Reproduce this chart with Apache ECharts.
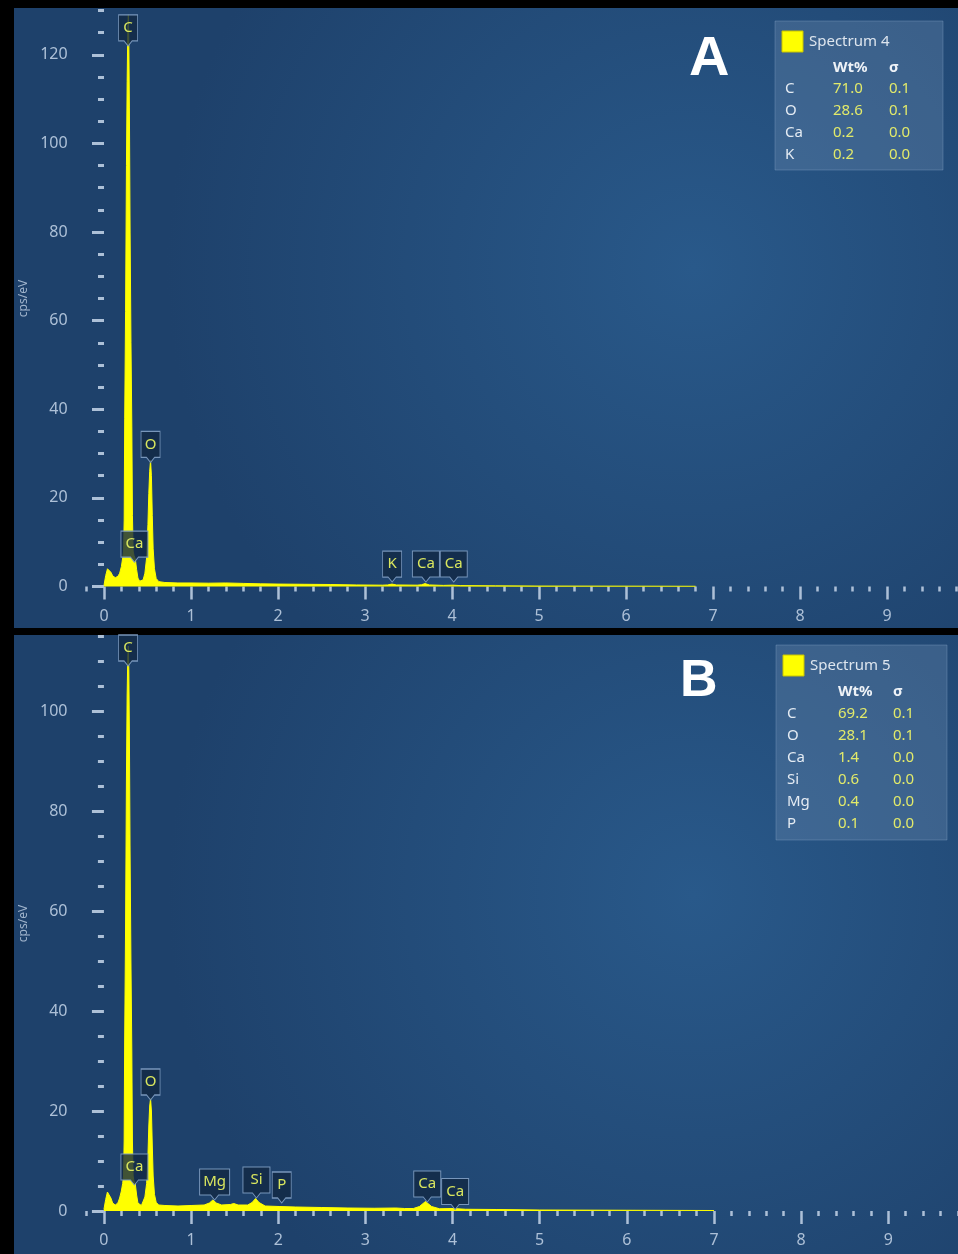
<!DOCTYPE html>
<html>
<head>
<meta charset="utf-8">
<script src="https://cdn.jsdelivr.net/npm/echarts@6/dist/echarts.min.js"></script>
<style>
  html, body { margin: 0; padding: 0; background: #000; }
  #chart { width: 958px; height: 1254px; }
</style>
</head>
<body>
<div id="chart"></div>
<script>
// ---- Spectrum 4 (panel A): [energy keV, cps/eV] ----
const spectrumA = [
  [0.00,0.3],[0.02,2.5],[0.04,4.0],[0.05,4.4],[0.06,4.2],[0.08,3.2],[0.10,2.4],[0.13,2.0],[0.16,2.3],[0.18,3.0],
  [0.20,4.5],[0.215,6.5],[0.225,8],[0.232,15],[0.238,38],[0.248,62],[0.258,95],[0.266,114],[0.274,126],[0.280,129],
  [0.286,122],[0.292,108],[0.300,80],[0.310,55],[0.320,36],[0.327,16],[0.335,8],[0.345,7],[0.36,6.2],[0.375,3.8],
  [0.39,1.9],[0.41,1.2],[0.43,1.0],[0.45,1.5],[0.47,3.0],[0.49,6.5],[0.505,14],[0.515,21],[0.525,26],[0.535,28.5],
  [0.545,25],[0.555,16],[0.565,8.5],[0.58,4],[0.60,1.8],[0.63,1.1],[0.70,0.9],[0.85,0.8],[1.0,0.8],[1.2,0.75],
  [1.4,0.8],[1.6,0.7],[1.8,0.6],[2.0,0.55],[2.3,0.5],[2.6,0.45],[2.9,0.35],[3.2,0.3],[3.26,0.35],[3.31,0.55],
  [3.36,0.35],[3.6,0.3],[3.65,0.4],[3.69,0.65],[3.74,0.35],[3.9,0.25],[4.01,0.3],[4.1,0.2],[4.5,0.15],[5.0,0.1],
  [6.0,0.08],[6.8,0.05]
];

// ---- Spectrum 5 (panel B): [energy keV, cps/eV] ----
const spectrumB = [
  [0.00,0.3],[0.02,2.3],[0.04,3.8],[0.05,4.2],[0.06,3.9],[0.08,2.6],[0.10,1.6],[0.13,1.2],[0.16,1.6],[0.18,2.6],
  [0.20,4.0],[0.215,5.5],[0.225,7],[0.232,14],[0.238,34],[0.248,56],[0.258,86],[0.266,103],[0.274,111],[0.280,113],
  [0.286,108],[0.292,96],[0.300,72],[0.310,50],[0.320,32],[0.327,14],[0.335,7],[0.345,6],[0.36,5.4],[0.375,3.2],
  [0.39,1.6],[0.41,1.2],[0.43,1.1],[0.45,1.5],[0.47,2.8],[0.49,5.5],[0.505,11],[0.515,17],[0.525,21],[0.535,22.5],
  [0.545,20],[0.555,13],[0.565,7],[0.58,3.3],[0.60,1.7],[0.63,1.2],[0.70,1.1],[0.85,1.0],[1.0,1.1],[1.15,1.2],
  [1.21,1.6],[1.25,2.2],[1.29,1.6],[1.35,1.2],[1.45,1.3],[1.49,1.5],[1.54,1.2],[1.65,1.2],[1.70,1.7],[1.74,2.5],
  [1.78,1.7],[1.85,1.0],[2.01,0.9],[2.2,0.8],[2.5,0.7],[2.8,0.6],[3.1,0.55],[3.35,0.6],[3.45,0.5],[3.55,0.5],
  [3.62,0.9],[3.69,1.9],[3.76,0.9],[3.85,0.45],[4.01,0.5],[4.15,0.35],[4.5,0.3],[5.0,0.2],[6.0,0.15],[7.0,0.1]
];

// Peak markers: [energy keV, marker tip (cps/eV), element]
const peaksA = [[0.277,122,'C'],[0.35,5.5,'Ca'],[0.535,28,'O'],[3.312,1,'K'],[3.70,1,'Ca'],[4.02,1,'Ca']];
const peaksB = [[0.277,109,'C'],[0.35,5.2,'Ca'],[0.535,22.2,'O'],[1.27,2.2,'Mg'],[1.75,2.6,'Si'],[2.04,1.6,'P'],[3.71,1.8,'Ca'],[4.03,0.3,'Ca']];

// Quantification tables
const titleA = 'Spectrum 4';
const elementsA = ['C','O','Ca','K'];
const wtA = ['71.0','28.6','0.2','0.2'];
const sigmaA = ['0.1','0.1','0.0','0.0'];

const titleB = 'Spectrum 5';
const elementsB = ['C','O','Ca','Si','Mg','P'];
const wtB = ['69.2','28.1','1.4','0.6','0.4','0.1'];
const sigmaB = ['0.1','0.1','0.0','0.0','0.0','0.0'];

// Axis ticks
const energyTicks = [0,1,2,3,4,5,6,7,8,9];
const countTicksA = [0,20,40,60,80,100,120];
const countTicksB = [0,20,40,60,80,100];

const FONT = '"Noto Sans", "Open Sans", sans-serif';
const AXIS_COLOR = '#adc0d7';

// Callout box with a down-pointing notch; the tip sits on the data point
function markerItem(p) {
  const txt = p[2];
  const w = txt === 'Mg' ? 30 : (txt.length > 1 ? 27 : 19);
  const bh = 26, h = 31;
  const path = 'path://M0,0 H' + w + ' V' + bh + ' H' + (w / 2 + 4) + ' L' + (w / 2) + ',' + h +
               ' L' + (w / 2 - 4) + ',' + bh + ' H0 Z';
  return {
    value: [p[0], p[1]],
    name: txt,
    symbol: path,
    symbolSize: [w, h],
    symbolOffset: [0, -h / 2]
  };
}

function markerSeries(peaks, idx) {
  return {
    type: 'scatter',
    xAxisIndex: idx * 2,
    yAxisIndex: idx * 2,
    clip: false,
    silent: true,
    z: 4,
    data: peaks.map(markerItem),
    itemStyle: { color: 'rgba(18,40,68,0.8)', borderColor: 'rgba(125,155,192,0.95)', borderWidth: 1, opacity: 1 },
    label: {
      show: true,
      position: 'inside',
      offset: [0, -2.5],
      formatter: '{b}',
      color: '#d9e65e',
      fontSize: 15,
      fontFamily: FONT
    }
  };
}

function spectrumSeries(data, idx) {
  return {
    type: 'line',
    xAxisIndex: idx * 2,
    yAxisIndex: idx * 2,
    data: data,
    showSymbol: false,
    silent: true,
    z: 2,
    lineStyle: { color: '#ffff00', width: 1 },
    areaStyle: { color: '#ffff00', opacity: 1 }
  };
}

function xAxes(gridIndex) {
  const base = {
    gridIndex: gridIndex, type: 'value', position: 'bottom', min: -0.2, max: 9.8, offset: 3.5,
    axisLine: { show: false }, splitLine: { show: false }
  };
  return [
    Object.assign({}, base, {
      interval: 0.2,
      axisTick: { show: true, length: 5, lineStyle: { color: AXIS_COLOR, width: 2.5 } },
      axisLabel: { show: false }
    }),
    Object.assign({}, base, {
      axisTick: { show: true, customValues: energyTicks, length: 13, lineStyle: { color: AXIS_COLOR, width: 2.5 } },
      axisLabel: { show: true, customValues: energyTicks, margin: 18, color: AXIS_COLOR, fontSize: 16, fontFamily: FONT }
    })
  ];
}

function yAxes(gridIndex, max, ticks) {
  const base = {
    gridIndex: gridIndex, type: 'value', position: 'left', min: 0, max: max, offset: 3,
    axisLine: { show: false }, splitLine: { show: false }
  };
  return [
    Object.assign({}, base, {
      interval: 5,
      axisTick: { show: true, length: 6, lineStyle: { color: AXIS_COLOR, width: 3 } },
      axisLabel: { show: false }
    }),
    Object.assign({}, base, {
      axisTick: { show: true, customValues: ticks, length: 12, lineStyle: { color: AXIS_COLOR, width: 3 } },
      axisLabel: { show: true, customValues: ticks, margin: 16, color: AXIS_COLOR, fontSize: 16, fontFamily: FONT },
      name: 'cps/eV',
      nameLocation: 'middle',
      nameGap: 52,
      nameTextStyle: { color: '#9fb3cb', fontSize: 12, fontFamily: FONT }
    })
  ];
}

// Quantification box drawn as a graphic group
function tableGroup(x, y, w, h, title, elements, wt, sigma, sq) {
  const children = [
    { type: 'rect', shape: { x: 0, y: 0, width: w, height: h },
      style: { fill: 'rgba(112,142,178,0.33)', stroke: 'rgba(140,168,200,0.35)', lineWidth: 1 } },
    { type: 'rect', shape: { x: sq.x, y: sq.y, width: sq.s, height: sq.s },
      style: { fill: '#ffff00', stroke: '#c9c400', lineWidth: 1 } },
    { type: 'text', x: sq.x + sq.s + 6, y: sq.y + sq.s / 2,
      style: { text: title, fill: '#dde5ee', font: '15px ' + FONT, verticalAlign: 'middle' } },
    { type: 'text', x: sq.cols[1], y: sq.hy,
      style: { text: 'Wt%', fill: '#eef2f7', font: 'bold 15px ' + FONT, verticalAlign: 'middle' } },
    { type: 'text', x: sq.cols[2], y: sq.hy,
      style: { text: 'σ', fill: '#eef2f7', font: 'bold 15px ' + FONT, verticalAlign: 'middle' } }
  ];
  elements.forEach(function (el, i) {
    const ry = sq.ry + i * 22;
    children.push({ type: 'text', x: sq.cols[0], y: ry,
      style: { text: el, fill: '#e4ebf3', font: '15px ' + FONT, verticalAlign: 'middle' } });
    children.push({ type: 'text', x: sq.cols[1], y: ry,
      style: { text: wt[i], fill: '#e2ea6a', font: '15px ' + FONT, verticalAlign: 'middle' } });
    children.push({ type: 'text', x: sq.cols[2], y: ry,
      style: { text: sigma[i], fill: '#e2ea6a', font: '15px ' + FONT, verticalAlign: 'middle' } });
  });
  return { type: 'group', x: x, y: y, z: 10, children: children };
}

function panelBackground(y, h) {
  return {
    type: 'rect', z: -10, silent: true,
    shape: { x: 14, y: y, width: 944, height: h },
    style: {
      fill: {
        type: 'radial', x: 0.72, y: 0.42, r: 0.85,
        colorStops: [
          { offset: 0, color: '#29598a' },
          { offset: 1, color: '#1e416b' }
        ]
      }
    }
  };
}

const chart = echarts.init(document.getElementById('chart'), null, { renderer: 'canvas' });

chart.setOption({
  backgroundColor: '#000',
  animation: false,
  grid: [
    { left: 86.6, top: 10.5, width: 870, height: 576 },
    { left: 86.5, top: 636, width: 873, height: 575 }
  ],
  xAxis: xAxes(0).concat(xAxes(1)),
  yAxis: yAxes(0, 130, countTicksA).concat(yAxes(1, 115, countTicksB)),
  series: [
    spectrumSeries(spectrumA, 0),
    markerSeries(peaksA, 0),
    spectrumSeries(spectrumB, 1),
    markerSeries(peaksB, 1)
  ],
  graphic: [
    panelBackground(8, 620),
    panelBackground(635, 619),
    { type: 'text', x: 689, y: 60, z: 10,
      style: { text: 'A', fill: '#ffffff', font: 'bold 56px "Liberation Sans", Arial, sans-serif', verticalAlign: 'middle' } },
    { type: 'text', x: 680, y: 682, z: 10,
      style: { text: 'B', fill: '#ffffff', font: 'bold 52px "Liberation Sans", Arial, sans-serif', verticalAlign: 'middle' } },
    tableGroup(775, 21, 168, 149, titleA, elementsA, wtA, sigmaA,
      { x: 7, y: 10, s: 21, hy: 47, ry: 68, cols: [10, 58, 114] }),
    tableGroup(776, 645, 171, 195, titleB, elementsB, wtB, sigmaB,
      { x: 7, y: 10, s: 21, hy: 47, ry: 69, cols: [11, 62, 117] })
  ]
});
</script>
</body>
</html>
